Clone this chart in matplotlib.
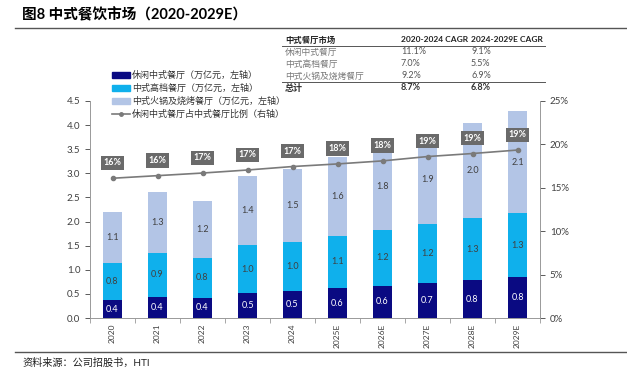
import numpy as np
import matplotlib
matplotlib.use("Agg")
import matplotlib.pyplot as plt
from matplotlib.lines import Line2D
from matplotlib.patches import Patch

plt.rcParams['font.family'] = ['Lato', 'Noto Sans CJK SC', 'DejaVu Sans']

years = ['2020', '2021', '2022', '2023', '2024', '2025E', '2026E', '2027E', '2028E', '2029E']
casual = [0.37, 0.44, 0.42, 0.52, 0.55, 0.62, 0.67, 0.73, 0.78, 0.84]
casual_lbl = ['0.4', '0.4', '0.4', '0.5', '0.5', '0.6', '0.6', '0.7', '0.8', '0.8']
highend = [0.78, 0.91, 0.83, 0.99, 1.03, 1.09, 1.16, 1.21, 1.29, 1.34]
highend_lbl = ['0.8', '0.9', '0.8', '1.0', '1.0', '1.1', '1.2', '1.2', '1.3', '1.3']
hotpot = [1.05, 1.26, 1.18, 1.44, 1.50, 1.62, 1.80, 1.87, 1.98, 2.11]
hotpot_lbl = ['1.1', '1.3', '1.2', '1.4', '1.5', '1.6', '1.8', '1.9', '2.0', '2.1']
share = [16.1, 16.4, 16.7, 17.05, 17.45, 17.75, 18.1, 18.6, 18.95, 19.35]
share_lbl = ['16%', '16%', '17%', '17%', '17%', '18%', '18%', '19%', '19%', '19%']

legend_names = ['休闲中式餐厅（万亿元，左轴）', '中式高档餐厅（万亿元，左轴）',
                '中式火锅及烧烤餐厅（万亿元，左轴）', '休闲中式餐厅占中式餐厅比例（右轴）']

table_head = ['中式餐厅市场', '2020-2024 CAGR', '2024-2029E CAGR']
table_rows = [['休闲中式餐厅', '11.1%', '9.1%'],
              ['中式高档餐厅', '7.0%', '5.5%'],
              ['中式火锅及烧烤餐厅', '9.2%', '6.9%']]
table_total = ['总计', '8.7%', '6.8%']

c_navy = '#0a0a82'
c_cyan = '#0fb0ec'
c_light = '#b3c5e6'
c_line = '#7a7a7a'
c_txt = '#404040'

fig = plt.figure(figsize=(6.27, 3.77), dpi=100)
W, H = 627, 377
ax = fig.add_axes([90 / W, 1 - 318 / H, 450 / W, 217 / H])
ax2 = ax.twinx()

x = np.arange(len(years))
bw = 0.43
casual = np.array(casual)
highend = np.array(highend)
hotpot = np.array(hotpot)
ax.bar(x, casual, bw, color=c_navy, zorder=2)
ax.bar(x, highend, bw, bottom=casual, color=c_cyan, zorder=2)
ax.bar(x, hotpot, bw, bottom=casual + highend, color=c_light, zorder=2)

for i in range(len(years)):
    ax.text(x[i], casual[i] / 2, casual_lbl[i], ha='center', va='center',
            fontsize=6.5, color='white', zorder=3)
    ax.text(x[i], casual[i] + highend[i] / 2, highend_lbl[i], ha='center', va='center',
            fontsize=6.5, color=c_txt, zorder=3)
    ax.text(x[i], casual[i] + highend[i] + hotpot[i] / 2, hotpot_lbl[i], ha='center',
            va='center', fontsize=6.5, color=c_txt, zorder=3)

ax.set_xlim(-0.5, len(years) - 0.5)
ax.set_ylim(0, 4.5)
ax.set_yticks(np.arange(0, 4.51, 0.5))
ax.set_yticklabels(['%.1f' % v for v in np.arange(0, 4.51, 0.5)])
ax.set_xticks(x)
ax.set_xticklabels(years, rotation=90, fontsize=6)
ax.set_xticks(np.arange(-0.5, len(years), 1), minor=True)
ax.tick_params(axis='x', which='major', length=0, pad=4, colors=c_txt)
ax.tick_params(axis='x', which='minor', length=3.5, color='#999999')
ax.tick_params(axis='y', labelsize=7, colors=c_txt, length=3.5, width=0.6)
for s in ['top', 'right']:
    ax.spines[s].set_visible(False)
for s in ['left', 'bottom']:
    ax.spines[s].set_color('#999999')
    ax.spines[s].set_linewidth(0.7)

ax2.plot(x, share, color=c_line, lw=1.2, marker='o', ms=3, zorder=4)
for i in range(len(years)):
    ax2.annotate(share_lbl[i], (x[i], share[i]), xytext=(0, 11), textcoords='offset points',
                 ha='center', va='center', fontsize=6.5, color='white', fontweight='bold',
                 bbox=dict(boxstyle='square,pad=0.3', fc='#6a6a6a', ec='none'), zorder=5)
ax2.set_ylim(0, 25)
ax2.set_yticks(range(0, 26, 5))
ax2.set_yticklabels(['%d%%' % v for v in range(0, 26, 5)])
ax2.tick_params(axis='y', labelsize=7, colors=c_txt, length=3.5, width=0.6)
for s in ['top', 'left', 'bottom']:
    ax2.spines[s].set_visible(False)
ax2.spines['right'].set_color('#999999')
ax2.spines['right'].set_linewidth(0.7)

# legend
handles = [Patch(color=c_navy), Patch(color=c_cyan), Patch(color=c_light),
           Line2D([0], [0], color=c_line, lw=1.2, marker='o', ms=2.5)]
fig.legend(handles, legend_names, loc='upper left', bbox_to_anchor=(104 / W, 1 - 63 / H),
           frameon=False, fontsize=6.5, handlelength=2.0, handleheight=0.6,
           handletextpad=0.2, labelspacing=0.42, labelcolor='#333333')

# title and separators
fig.text(22 / W, 1 - 15 / H, '图8 中式餐饮市场（2020-2029E）', fontsize=10.5,
         fontweight='bold', va='center', ha='left')
fig.add_artist(Line2D([15 / W, 1], [1 - 28 / H] * 2, color='#555555', lw=1.0))
fig.add_artist(Line2D([15 / W, 1], [1 - 352 / H] * 2, color='#555555', lw=1.0))
fig.text(22 / W, 1 - 363 / H, '资料来源：公司招股书，HTI', fontsize=7.3, va='center',
         ha='left', color='#222222')

# CAGR table
cols = [285 / W, 401 / W, 471 / W]
for c, t in zip(cols, table_head):
    fig.text(c, 1 - 40 / H, t, fontsize=6, fontweight='bold', va='center', color='#222222')
fig.add_artist(Line2D([282 / W, 545 / W], [1 - 46 / H] * 2, color='#555555', lw=0.7))
row_y = [52, 64, 76]
for r, yy in zip(table_rows, row_y):
    fig.text(cols[0], 1 - yy / H, r[0], fontsize=6.3, va='center', color='#777777')
    fig.text(cols[1], 1 - yy / H, r[1], fontsize=6.5, va='center', color='#555555')
    fig.text(cols[2], 1 - yy / H, r[2], fontsize=6.5, va='center', color='#555555')
fig.add_artist(Line2D([282 / W, 545 / W], [1 - 82 / H] * 2, color='#555555', lw=0.7))
for c, t in zip(cols, table_total):
    fig.text(c, 1 - 88 / H, t, fontsize=6.5, fontweight='bold', va='center', color='#333333')

fig.savefig('out.png', dpi=100)
